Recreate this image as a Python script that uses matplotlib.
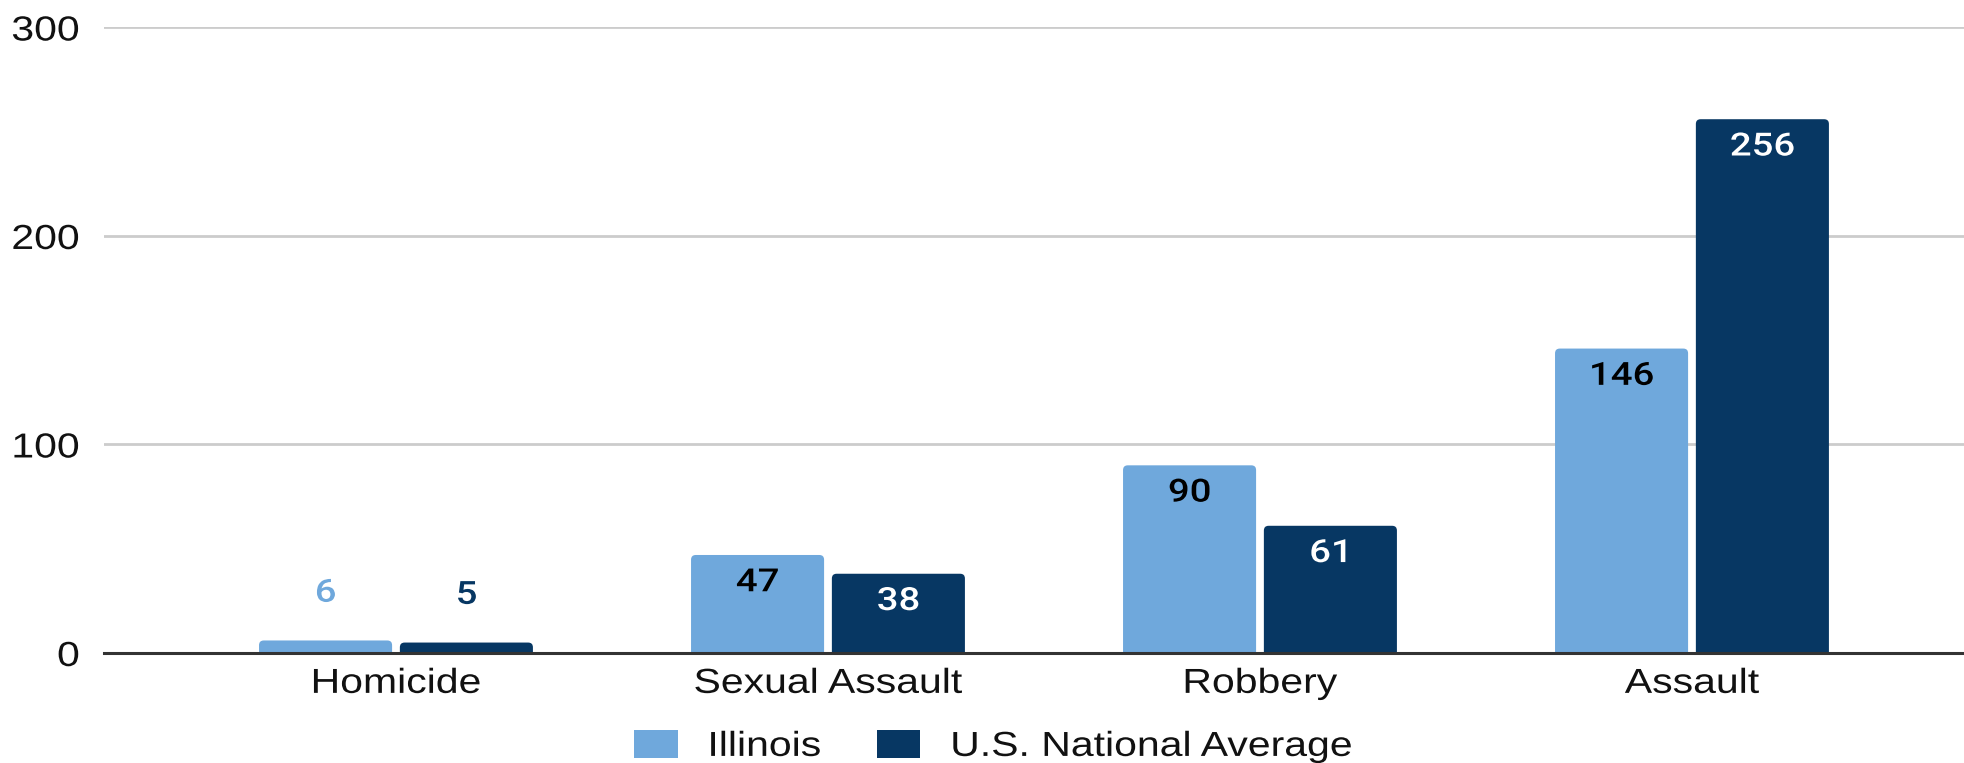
import matplotlib
matplotlib.use("Agg")
import matplotlib.pyplot as plt
import numpy as np
from matplotlib.patheffects import AbstractPathEffect
from matplotlib.transforms import Affine2D
from matplotlib.patches import FancyBboxPatch

# data
categories = ["Homicide", "Sexual Assault", "Robbery", "Assault"]
illinois = [6, 47, 90, 146]
us_avg = [5, 38, 61, 256]
series_names = ["Illinois", "U.S. National Average"]
y_ticks = [0, 100, 200, 300]

light = "#6fa8dc"
navy = "#073763"


# the source image is stretched sideways, so widen the glyphs to match
class Stretch(AbstractPathEffect):
    def __init__(self, sx, anchor="center"):
        super().__init__()
        self.sx = sx
        self.anchor = anchor

    def draw_path(self, renderer, gc, tpath, affine, rgbFace=None):
        xs = tpath.vertices[:, 0]
        if self.anchor == "center":
            cx = (xs.min() + xs.max()) / 2
        elif self.anchor == "right":
            cx = xs.max()
        else:
            cx = 0
        t = Affine2D().translate(-cx, 0).scale(self.sx, 1).translate(cx, 0) + affine
        renderer.draw_path(gc, tpath, t, rgbFace)


SX = 1.18

fig = plt.figure(figsize=(19.65, 7.63), dpi=100)
ax = fig.add_axes([0.0529, 0.1442, 0.9471, 0.8198])
ax.set_xlim(-0.676, 3.632)
ax.set_ylim(0, 300)

x = np.arange(len(categories))
w = 0.308
off = 0.163
b1 = ax.bar(x - off, illinois, w, color=light, label=series_names[0], zorder=3)
b2 = ax.bar(x + off, us_avg, w, color=navy, label=series_names[1], zorder=3)

# rounded tops: swap each bar for a rounded box of the same size
# (extended a bit below zero so the lower corners are clipped away)
aspect = 300 / 0.8198 / 7.63 * 0.9471 * 19.65 / (3.632 + 0.676)
rnd = 0.011
for bars in (b1, b2):
    for rect in bars:
        ext = rnd * aspect
        p = FancyBboxPatch((rect.get_x(), -ext), rect.get_width(), rect.get_height() + ext,
                           boxstyle=f"round,pad=0,rounding_size={rnd}", mutation_aspect=aspect,
                           facecolor=rect.get_facecolor(), edgecolor="none", zorder=3)
        ax.add_patch(p)
        rect.set_visible(False)

# value labels: inside the top of the bar, or above it when the bar is too short
for bars, vals, inside_col, bar_col in [(b1, illinois, "black", light), (b2, us_avg, "white", navy)]:
    for rect, v in zip(bars, vals):
        cx = rect.get_x() + rect.get_width() / 2
        if v >= 20:
            dy, col = -20, inside_col
        else:
            dy, col = 34, bar_col
        t = ax.annotate(str(v), (cx, v), xytext=(0, dy), textcoords="offset points",
                        ha="center", va="center", fontsize=23, color=col,
                        family="Roboto", weight="medium", zorder=4)
        t.set_path_effects([Stretch(1.2)])

ax.set_yticks(y_ticks)
ax.set_xticks(x)
ax.set_xticklabels(categories)
ax.tick_params(axis="both", length=0, labelsize=25, labelcolor="#111111")
ax.tick_params(axis="y", pad=17.5)
ax.tick_params(axis="x", pad=10)
for lab in ax.get_xticklabels():
    lab.set_family("Liberation Sans")
    lab.set_path_effects([Stretch(SX)])
for lab in ax.get_yticklabels():
    lab.set_family("Liberation Sans")
    lab.set_path_effects([Stretch(SX, "right")])

ax.grid(axis="y", color="#cccccc", linewidth=2, zorder=0)
for s in ["top", "right", "left"]:
    ax.spines[s].set_visible(False)
ax.spines["bottom"].set_color("#333333")
ax.spines["bottom"].set_linewidth(2.2)
ax.spines["bottom"].set_zorder(5)

leg = fig.legend(handles=[b1, b2], labels=series_names, loc="center",
                 bbox_to_anchor=(0.490, 0.022), ncol=2, frameon=False,
                 prop={"family": "Liberation Sans", "size": 25},
                 handlelength=1.25, handleheight=0.9, handletextpad=0.86, columnspacing=2.1)
for t in leg.get_texts():
    t.set_color("#111111")
    t.set_path_effects([Stretch(SX, "left")])
for h in leg.legend_handles:
    h.set_visible(True)

fig.savefig("out.png", dpi=100)
